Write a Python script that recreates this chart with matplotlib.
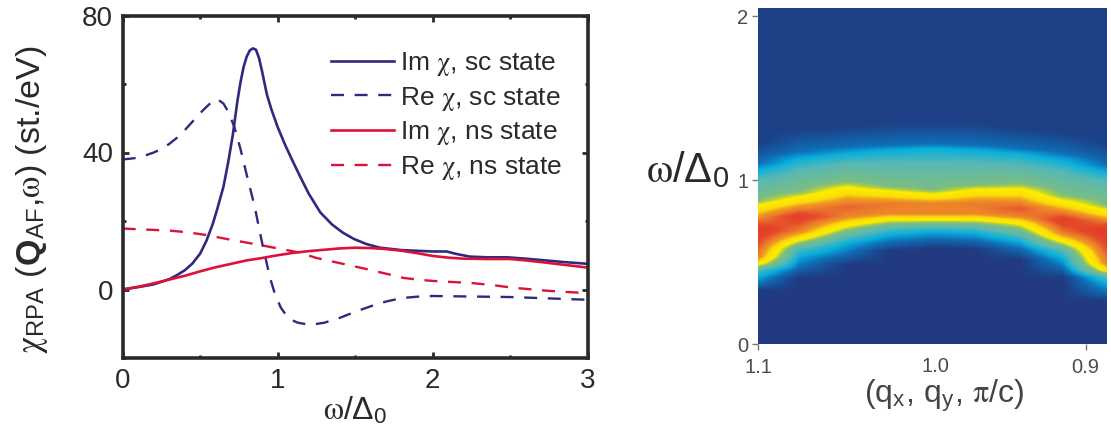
import numpy as np
import matplotlib
matplotlib.use("Agg")
import matplotlib.pyplot as plt
from matplotlib.colors import LinearSegmentedColormap

plt.rcParams["font.family"] = "Liberation Sans"
plt.rcParams["mathtext.fontset"] = "custom"
plt.rcParams["mathtext.rm"] = "Liberation Sans"
plt.rcParams["mathtext.bf"] = "Liberation Sans:bold"
plt.rcParams["mathtext.it"] = "STIXGeneral"
plt.rcParams["mathtext.fallback"] = "stix"

# left panel curves
im_sc_x = [0, .1, .2, .3, .35, .4, .45, .5, .54, .58, .61, .65, .68, .71, .74, .76, .78, .8, .82, .84, .86, .88, .9, .93, .96, 1.0,
           1.05, 1.105, 1.15, 1.2, 1.275, 1.35, 1.42, 1.49, 1.57, 1.66, 1.8, 2.0, 2.09, 2.15, 2.24, 2.35, 2.48, 2.6, 2.7, 2.85, 3.0]
im_sc_y = [0, .7, 1.5, 3, 4.2, 5.6, 7.6, 10.5, 14.2, 19, 23.5, 30, 37, 45, 55, 60.5, 65, 68, 69.8, 70.4, 70, 67.5, 63.5, 57, 52.5, 47.4,
           42, 36.7, 32.5, 28, 22.5, 19, 16.6, 14.8, 13.3, 12.2, 11.5, 11.1, 11.1, 10.4, 9.6, 9.4, 9.4, 9, 8.6, 8, 7.5]
re_sc_x = [0, .05, .1, .15, .2, .25, .3, .35, .4, .45, .5, .54, .58, .61, .65, .68, .72, .76, .8, .85, .9, .95, .98, 1.02, 1.05, 1.08,
           1.13, 1.18, 1.23, 1.3, 1.4, 1.5, 1.6, 1.7, 1.8, 1.9, 2.0, 2.5, 3.0]
re_sc_y = [38, 38.2, 38.5, 39.2, 40, 41, 42.5, 44.3, 46.5, 49, 51.5, 53.3, 55, 55.6, 54.3, 52, 47.5, 41, 33.5, 24.5, 13.5, 3.5, -1, -5.3, -7.2, -8.7,
           -9.7, -10.1, -10.2, -9.7, -8.3, -6.5, -4.9, -3.5, -2.5, -2.1, -1.9, -2.2, -3]
im_ns_x = [0, .1, .2, .3, .4, .5, .6, .7, .8, .9, 1.0, 1.1, 1.2, 1.3, 1.4, 1.5, 1.6, 1.7, 1.8, 1.9, 2.0, 2.1, 2.2, 2.35, 2.5, 2.6, 2.7, 2.85, 3.0]
im_ns_y = [0, .8, 1.8, 2.9, 4, 5.3, 6.5, 7.5, 8.5, 9.2, 10, 10.7, 11.2, 11.6, 12, 12.2, 12.1, 11.8, 11.3, 10.6, 9.8, 9.3, 9, 8.9, 8.9, 8.5, 8, 7.2, 6.4]
re_ns_x = [0, .15, .3, .42, .54, .7, .885, 1.0, 1.14, 1.25, 1.4, 1.55, 1.7, 1.81, 1.9, 2.0, 2.12, 2.25, 2.4, 2.52, 2.75, 2.97, 3.0]
re_ns_y = [17.8, 17.5, 17.2, 16.7, 15.9, 14.5, 13, 12, 10.8, 9.2, 7.7, 6.2, 4.6, 3.4, 2.9, 2.5, 2.2, 1.9, 1.2, .5, -.4, -1, -1]

# right panel: band read column by column, omega where each colour level is reached
q_cols = [1.1, 1.075, 1.046, 1.02, .993, .967, .94, .914, .887]
levels_low = [.02, .12, .2, .3, .55, .7]
levels_high = [.55, .42, .3, .2, .12, .02]
peak_vals = [.88, .86, .76, .72, .70, .72, .78, .86, .90]
band_rows = [
    [.327, .367, .408, .449, .490, .530, .694, .827, .878, 1.000, 1.061, 1.102, 1.224],
    [.408, .469, .531, .582, .643, .684, .776, .878, .929, 1.061, 1.133, 1.173, 1.306],
    [.490, .551, .612, .653, .731, .776, .837, .939, .990, 1.102, 1.163, 1.204, 1.327],
    [.571, .622, .663, .704, .765, .796, .857, .918, .959, 1.102, 1.184, 1.214, 1.347],
    [.592, .643, .684, .714, .765, .796, .857, .898, .939, 1.102, 1.194, 1.224, 1.347],
    [.582, .633, .673, .708, .765, .796, .857, .928, .969, 1.102, 1.184, 1.214, 1.347],
    [.520, .582, .622, .663, .745, .776, .827, .929, .980, 1.092, 1.163, 1.194, 1.316],
    [.408, .469, .520, .571, .633, .673, .755, .857, .908, 1.051, 1.122, 1.163, 1.286],
    [.265, .316, .367, .408, .449, .490, .694, .796, .847, .990, 1.051, 1.092, 1.224],
]
omega_top = 2.05

ink = "#2b2a29"
navy = "#2e2a80"
red = "#dc1238"

band_cmap = LinearSegmentedColormap.from_list("band", [
    (0.0, "#223a82"), (.015, "#1c4288"), (.02, "#1c4288"), (.12, "#0f6fb8"), (.2, "#08b0dc"),
    (.3, "#58b8b4"), (.42, "#7cbe80"), (.47, "#c0d430"), (.5, "#fdee00"), (.6, "#fbdc08"), (.66, "#f09a20"), (.72, "#ec7d2c"),
    (.8, "#e6482a"), (1.0, "#e02a20"),
])

fig = plt.figure(figsize=(11.11, 4.32), dpi=100)
W, H = 1111, 432

ax = fig.add_axes([122.7 / W, 1 - 358 / H, 465 / W, 342.5 / H])
ax.plot(im_sc_x, im_sc_y, color=navy, lw=1.9, label="Im $\\chi$, sc state")
ax.plot(re_sc_x, re_sc_y, color=navy, lw=1.7, ls=(0, (5.5, 4.5)), label="Re $\\chi$, sc state")
ax.plot(im_ns_x, im_ns_y, color=red, lw=1.9, label="Im $\\chi$, ns state")
ax.plot(re_ns_x, re_ns_y, color=red, lw=1.7, ls=(0, (5.5, 4.5)), label="Re $\\chi$, ns state")
ax.set_xlim(0, 3)
ax.set_ylim(-20, 80)
ax.set_xticks([0, 1, 2, 3])
ax.set_xticks([.5, 1.5, 2.5], minor=True)
ax.set_yticks([0, 40, 80])
ax.set_yticks([-20, 20, 60], minor=True)
ax.tick_params(which="major", direction="in", top=True, right=True, length=4, width=2, color=ink,
               labelsize=20, labelcolor=ink, pad=7)
ax.tick_params(which="minor", direction="in", top=True, right=True, length=2.5, width=2, color=ink)
for s in ax.spines.values():
    s.set_linewidth(2.6)
    s.set_color(ink)
ax.set_xlabel("$\\omega/\\Delta_0$", fontsize=23, color=ink, labelpad=1)
fig.text(32 / W, 1 - 200 / H, "$\\chi_{\\mathrm{RPA}}$ ($\\mathbf{Q}_{\\mathrm{AF}}$,$\\omega$) (st./eV)",
         rotation=90, fontsize=24.5, color=ink, ha="center", va="center")
ax.legend(loc="upper left", bbox_to_anchor=(.448, .899), frameon=False, fontsize=19, labelcolor=ink,
          handlelength=2.4, handletextpad=.2, labelspacing=.25, borderaxespad=0, borderpad=0)

# build the picture from the column table
omega = np.linspace(0, omega_top, 300)
grid = np.zeros((len(omega), len(q_cols)))
for i, row in enumerate(band_rows):
    stops = levels_low + [peak_vals[i]] + levels_high
    grid[:, i] = np.interp(omega, row, stops, left=0, right=.015)
fine_q = np.linspace(q_cols[0], q_cols[-1], 350)
image = np.array([np.interp(-fine_q, -np.array(q_cols), r) for r in grid])

ax2 = fig.add_axes([758 / W, 1 - 344 / H, 349 / W, 336 / H])
ax2.imshow(image, origin="lower", aspect="auto", cmap=band_cmap, vmin=0, vmax=1,
           extent=[q_cols[0], q_cols[-1], 0, omega_top], interpolation="bilinear")
ax2.set_xticks([1.1, .9])
ax2.set_xticklabels(["1.1", "0.9"])
ax2.set_yticks([0, 1, 2])
ax2.tick_params(length=4, width=1, color="#777777", labelsize=14.5, labelcolor="#4a4a4a")
ax2.tick_params(axis="x", pad=6)
ax2.tick_params(axis="y", pad=3)
ax2.text(.992, -.135, "1.0", fontsize=14.5, color="#4a4a4a", ha="center", va="center")
for s in ax2.spines.values():
    s.set_visible(False)
fig.text(944 / W, 1 - 396 / H, "(q$_{\\mathrm{x}}$, q$_{\\mathrm{y}}$, $\\pi$/c)", fontsize=23, color="#444444",
         ha="center", va="center")
fig.text(688 / W, 1 - 171 / H, "$\\omega/\\Delta_0$", fontsize=30, color=ink, ha="center", va="center")

fig.savefig("out.png", dpi=100)
